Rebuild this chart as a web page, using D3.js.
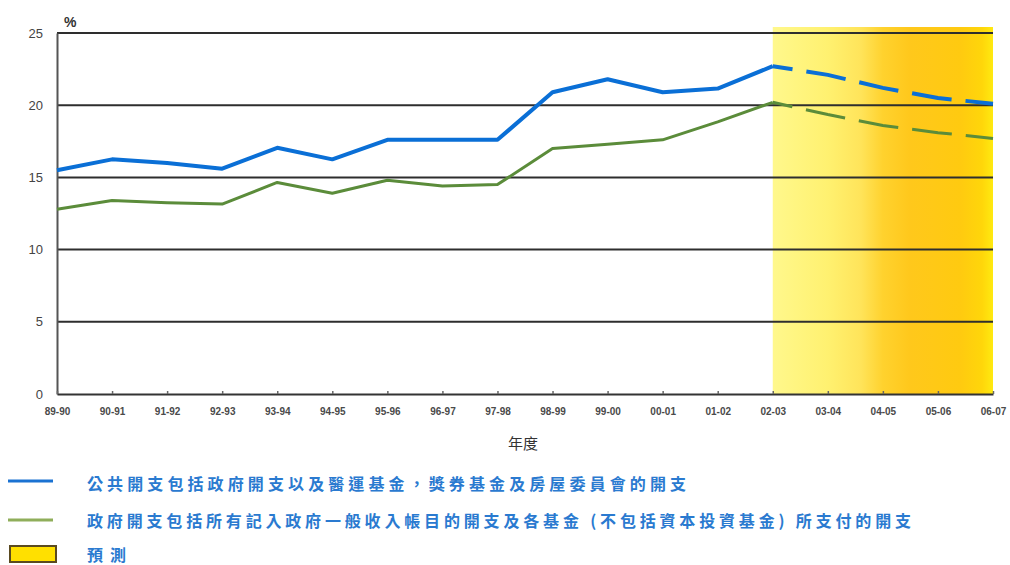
<!DOCTYPE html>
<html>
<head>
<meta charset="utf-8">
<script src="https://cdn.jsdelivr.net/npm/d3@7"></script>
<style>
  html, body { margin: 0; padding: 0; background: #fff; }
  svg { display: block; }
</style>
</head>
<body>
<svg id="chart" width="1010" height="565"></svg>
<script>
const categories = ["89-90","90-91","91-92","92-93","93-94","94-95","95-96","96-97","97-98","98-99","99-00","00-01","01-02","02-03","03-04","04-05","05-06","06-07"];
const publicExp = [15.5,16.25,16.0,15.6,17.05,16.25,17.6,17.6,17.6,20.9,21.8,20.9,21.15,22.7,22.1,21.2,20.5,20.1];
const govExp = [12.8,13.4,13.25,13.15,14.65,13.9,14.8,14.4,14.5,17.0,17.3,17.6,18.85,20.2,19.35,18.6,18.1,17.7];
const forecastStart = "02-03";
const yTicks = [0,5,10,15,20,25];
const legendLabels = [
  "公共開支包括政府開支以及醫運基金，獎券基金及房屋委員會的開支",
  "政府開支包括所有記入政府一般收入帳目的開支及各基金 (不包括資本投資基金) 所支付的開支",
  "預測"
];
const unitLabel = "%";
const xTitle = "年度";

const svg = d3.select("#chart");
const x = d3.scalePoint().domain(categories).range([57, 993]);
const y = d3.scaleLinear().domain([0, 25]).range([394, 33]);

// forecast band gradient
const defs = svg.append("defs");
const grad = defs.append("linearGradient").attr("id", "fc").attr("x1", "0").attr("x2", "1").attr("y1", "0").attr("y2", "0");
[[0, "#fff88c"], [0.25, "#fff170"], [0.4, "#ffe45a"], [0.5, "#ffd22e"], [0.62, "#ffc81c"], [0.85, "#ffca10"], [0.95, "#ffd60a"], [1, "#ffea10"]]
  .forEach(([o, c]) => grad.append("stop").attr("offset", o).attr("stop-color", c));

const fi = categories.indexOf(forecastStart);
svg.append("rect")
  .attr("x", x(forecastStart))
  .attr("y", y(25) - 6)
  .attr("width", x(categories[categories.length - 1]) - x(forecastStart))
  .attr("height", y(0) - y(25) + 6)
  .attr("fill", "url(#fc)");

// gridlines
svg.append("g").selectAll("line").data(yTicks.filter(d => d > 0)).join("line")
  .attr("x1", x.range()[0]).attr("x2", x.range()[1])
  .attr("y1", d => y(d)).attr("y2", d => y(d))
  .attr("stroke", "#2e2e2e").attr("stroke-width", 2);

// y axis
const yAxis = svg.append("g").attr("transform", `translate(${x.range()[0]},0)`)
  .call(d3.axisLeft(y).tickValues(yTicks).tickSize(0).tickPadding(14));
yAxis.select(".domain").attr("stroke", "#555").attr("stroke-width", 2);
yAxis.selectAll("text").attr("font-family", "Liberation Sans, Arial, sans-serif").attr("font-size", 13).attr("fill", "#444");

// x axis
const xAxis = svg.append("g").attr("transform", `translate(0,${y(0)})`)
  .call(d3.axisBottom(x).tickSizeInner(-3).tickSizeOuter(0).tickPadding(14));
xAxis.select(".domain").attr("stroke", "#333").attr("stroke-width", 2);
xAxis.selectAll(".tick line").attr("stroke", "#666").attr("stroke-width", 1.5);
xAxis.selectAll("text").attr("font-family", "Liberation Sans, Arial, sans-serif").attr("font-size", 10).attr("font-weight", "bold").attr("fill", "#4a4a4a");

svg.append("text").attr("x", 64).attr("y", 27).text(unitLabel)
  .attr("font-family", "Liberation Sans, Arial, sans-serif").attr("font-size", 14).attr("font-weight", "bold").attr("fill", "#333");
svg.append("text").attr("x", 523).attr("y", 449).attr("text-anchor", "middle").text(xTitle)
  .attr("font-family", "Noto Sans CJK TC, sans-serif").attr("font-size", 15).attr("fill", "#333");

// lines
const line = d3.line().x((d, i) => x(d.c)).y(d => y(d.v));
function series(vals) { return categories.map((c, i) => ({ c, v: vals[i] })); }
const blue = "#0a6fd6", green = "#5b8c3a";
[[publicExp, blue, 4], [govExp, green, 3]].forEach(([vals, col, w]) => {
  const s = series(vals);
  svg.append("path").datum(s.slice(0, fi + 1)).attr("d", line)
    .attr("fill", "none").attr("stroke", col).attr("stroke-width", w).attr("stroke-linejoin", "round");
  svg.append("path").datum(s.slice(fi)).attr("d", line)
    .attr("fill", "none").attr("stroke", col).attr("stroke-width", w)
    .attr("stroke-dasharray", "40,14").attr("stroke-dashoffset", 20);
});

// legend
const lg = svg.append("g");
lg.append("line").attr("x1", 8).attr("x2", 53).attr("y1", 481).attr("y2", 481).attr("stroke", "#1a72d2").attr("stroke-width", 3);
lg.append("line").attr("x1", 8).attr("x2", 53).attr("y1", 520).attr("y2", 520).attr("stroke", "#8fae5a").attr("stroke-width", 3);
lg.append("rect").attr("x", 10).attr("y", 546).attr("width", 46).attr("height", 16).attr("fill", "#ffe000").attr("stroke", "#5a4a20").attr("stroke-width", 2);
const lens = [599, 824, 39];
[[490, 0], [527, 1], [561, 2]].forEach(([yy, i]) => {
  lg.append("text").attr("x", 87).attr("y", yy).text(legendLabels[i])
    .attr("font-family", "Noto Sans CJK TC, sans-serif").attr("font-size", 16).attr("font-weight", "bold").attr("fill", "#2a7ad0")
    .attr("textLength", lens[i]).attr("lengthAdjust", "spacing");
});
</script>
</body>
</html>
